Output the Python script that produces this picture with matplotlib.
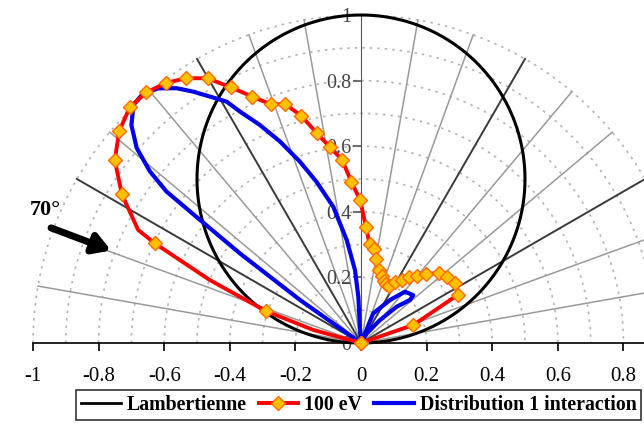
import numpy as np
import matplotlib
matplotlib.use("Agg")
import matplotlib.pyplot as plt
from matplotlib.lines import Line2D

plt.rcParams["font.family"] = ["Liberation Serif", "DejaVu Serif"]

#------------------------------------ data (angle from normal, deg / intensity)

red_theta = [-90, -74.7, -71.4, -67.4, -64.2, -63.1, -58.1, -53.4, -48.8,
             -44.4, -40.6, -36.9, -33.5, -30.1, -27.0, -23.8, -20.7, -17.6,
             -14.7, -11.9, -9.1, -5.9, -3.4, -0.3, 2.4, 4.9, 8.0, 10.4,
             13.8, 17.1, 20.0, 23.2, 26.1, 29.0, 32.9, 36.2, 39.9, 43.4,
             48.2, 52.4, 57.6, 63.6, 71.0, 90]
red_r = [0, 0.150, 0.307, 0.499, 0.698, 0.762, 0.859, 0.935, 0.980,
         1.007, 1.006, 0.991, 0.968, 0.933, 0.875, 0.821, 0.778, 0.764,
         0.716, 0.654, 0.606, 0.562, 0.492, 0.435, 0.355, 0.304, 0.288,
         0.259, 0.230, 0.214, 0.202, 0.195, 0.193, 0.214, 0.229, 0.249,
         0.268, 0.289, 0.320, 0.332, 0.340, 0.329, 0.169, 0]
red_nomark = [1, 3, 5]          # vertices drawn without a marker

blue_theta = [-56, -54.8, -53.5, -52.6, -52.1, -50.9, -49.0, -46.5, -43.7,
              -41.1, -38.5, -35.9, -33.7, -31.5, -29.1, -27.6, -24.9, -21.9,
              -18.6, -15.4, -11.5, -7.9, -4.7, -3.3, -4.3, 0,
              22.5, 34.0, 40.6, 47.5, 48.7, 44.5, 39.6, 30.4, 0]
blue_r = [0, 0.228, 0.459, 0.618, 0.751, 0.829, 0.906, 0.965, 1.004,
          1.010, 0.992, 0.959, 0.921, 0.881, 0.842, 0.796, 0.733, 0.662,
          0.583, 0.509, 0.424, 0.317, 0.223, 0.141, 0.040, 0,
          0.098, 0.158, 0.206, 0.216, 0.199, 0.155, 0.091, 0.034, 0]

x_ticks = [-1, -0.8, -0.6, -0.4, -0.2, 0, 0.2, 0.4, 0.6, 0.8]
x_labels = ["-1", "-0.8", "-0.6", "-0.4", "-0.2", "0", "0.2", "0.4", "0.6", "0.8"]
y_ticks = [0, 0.2, 0.4, 0.6, 0.8, 1]
y_labels = ["0", "0.2", "0.4", "0.6", "0.8", "1"]

grid_radii = np.arange(1, 11) / 10.0
grid_angles = [a for a in range(-80, 90, 10) if a != 0]
dark_angles = [-60, -30, 30, 60]


def to_xy(theta, r):
    t = np.radians(np.asarray(theta, dtype=float))
    r = np.asarray(r, dtype=float)
    return r * np.sin(t), r * np.cos(t)


fig = plt.figure(figsize=(6.44, 4.28), dpi=100)
ax = fig.add_axes([0, 0, 1, 1])
ax.set_xlim(-361 / 328, 283 / 328)
ax.set_ylim(-85 / 328, 343 / 328)

#------------------------------------ polar grid

tt = np.linspace(-90, 90, 361)
for rad in grid_radii:
    gx, gy = to_xy(tt, np.full_like(tt, rad))
    ax.plot(gx, gy, color="#b4b4b4", lw=1.2, ls=(0, (1.5, 3)), zorder=1)

for ang in grid_angles:
    lx, ly = to_xy([ang, ang], [0, 1])
    if ang in dark_angles:
        ax.plot(lx, ly, color="#3a3a3a", lw=1.4, zorder=1.2)
    else:
        ax.plot(lx, ly, color="#9a9a9a", lw=1.1, zorder=1.1)

#------------------------------------ curves

lx, ly = to_xy(tt, np.cos(np.radians(tt)))
ax.plot(lx, ly, color="black", lw=2.2, zorder=3)

bx, by = to_xy(blue_theta, blue_r)
ax.plot(bx, by, color="#0000ee", lw=3, zorder=3.2)

rx, ry = to_xy(red_theta, red_r)
marks = [i for i in range(len(red_r)) if i not in red_nomark]
ax.plot(rx, ry, color="#ff0000", lw=2.8, marker="D", markevery=marks,
        ms=7, mfc="#ffc000", mec="#ff6a00", mew=1, zorder=3.4)

#------------------------------------ axes

for side in ("top", "right"):
    ax.spines[side].set_visible(False)
ax.spines["left"].set_position(("data", 0))
ax.spines["bottom"].set_position(("data", 0))
ax.spines["left"].set_bounds(0, 1)
ax.spines["bottom"].set_bounds(-1, 283 / 328)
ax.spines["left"].set_color("#555555")
ax.spines["bottom"].set_linewidth(1.2)
ax.set_xticks(x_ticks)
ax.set_xticklabels(x_labels, fontsize=15)
ax.set_yticks(y_ticks)
ax.set_yticklabels(y_labels, fontsize=14.5, color="#444444")
ax.tick_params(axis="x", direction="out", length=6, width=1.2, pad=11)
ax.tick_params(axis="y", direction="out", length=6, width=1.2, pad=1,
               color="#555555")
for lab in ax.get_yticklabels():
    lab.set_zorder(2)

#------------------------------------ annotation

ax.text(-0.963, 0.405, "70°", fontsize=16, fontweight="bold",
        ha="center", va="center")
ax.annotate("", xy=(-0.762, 0.282), xytext=(-0.945, 0.351),
            arrowprops=dict(arrowstyle="-|>,head_length=1.0,head_width=0.6",
                            lw=5, color="black", shrinkA=0, shrinkB=0))

#------------------------------------ legend

handles = [
    Line2D([], [], color="black", lw=2),
    Line2D([], [], color="#ff0000", lw=2.8, marker="D", ms=7,
           mfc="#ffc000", mec="#ff6a00"),
    Line2D([], [], color="#0000ee", lw=3),
]
leg = fig.legend(handles, ["Lambertienne", "100 eV", "Distribution 1 interaction"],
                 loc="lower center", bbox_to_anchor=(0.557, -0.005), ncol=3,
                 prop={"weight": "bold", "size": 14.3}, frameon=True,
                 fancybox=False, edgecolor="black", handlelength=2,
                 handletextpad=0.3, columnspacing=0.6, borderpad=0.25)
leg.get_frame().set_linewidth(1.2)

fig.savefig("out.png", dpi=100)
